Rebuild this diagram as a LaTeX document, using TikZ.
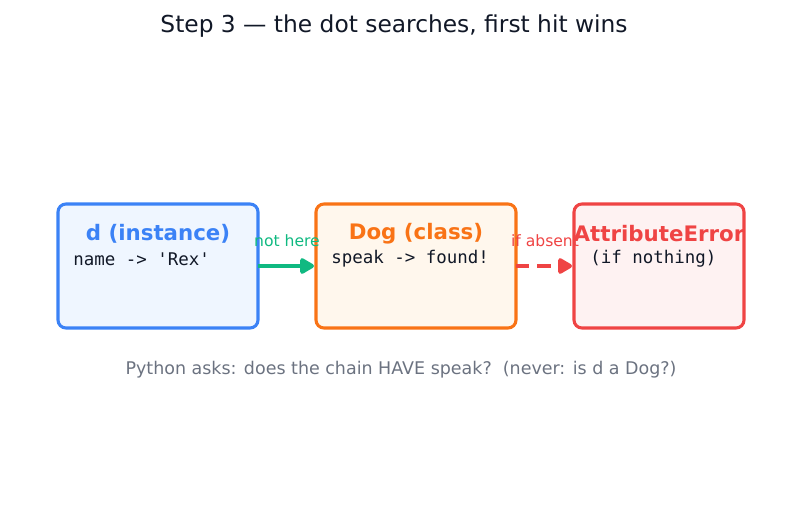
\documentclass[tikz,border=0pt]{standalone}
\usepackage{fontspec}
\setmainfont{DejaVu Sans}
\setmonofont{DejaVu Sans Mono}
\usetikzlibrary{arrows.meta}
\definecolor{cblue}{HTML}{3B82F6}
\definecolor{fblue}{HTML}{EFF6FF}
\definecolor{corange}{HTML}{F97316}
\definecolor{forange}{HTML}{FFF7ED}
\definecolor{cred}{HTML}{EF4444}
\definecolor{fred}{HTML}{FEF2F2}
\definecolor{cgreen}{HTML}{10B981}
\definecolor{cgray}{HTML}{6B7280}
\definecolor{ctitle}{HTML}{111827}
\tikzset{
  box/.style={draw=#1, line width=2.3pt, rounded corners=6pt},
  head/.style={font=\fontsize{16}{18}\selectfont\bfseries, text=#1, inner sep=0pt, anchor=center},
  code/.style={font=\fontsize{13.1}{15}\ttfamily, text=ctitle, inner sep=0pt, anchor=west},
  elabel/.style={font=\fontsize{11.7}{13}\selectfont, text=#1, inner sep=0pt, anchor=center},
  conn/.style={draw=#1, line width=3pt, -{Triangle[length=12pt,width=13pt,round]}},
}
\begin{document}
\begin{tikzpicture}[x=0.75pt,y=-0.75pt]
\useasboundingbox (0,0) rectangle (787,510);
\node[font=\fontsize{17.5}{20}\selectfont, text=ctitle, inner sep=0pt] (title) at (394,26) {Step 3 — the dot searches, first hit wins};
% boxes
\filldraw[box=cblue, fill=fblue] (58,204) rectangle (258,328);
\filldraw[box=corange, fill=forange] (316,204) rectangle (516,328);
\filldraw[box=cred, fill=fred] (574,204) rectangle (744,328);
\coordinate (b1r) at (258,266);
\coordinate (b2l) at (314,266);
\coordinate (b2r) at (516,266);
\coordinate (b3l) at (572,266);
\node[head=cblue] (h1) at (158,233.5) {d (instance)};
\node[code] (c1) at (73,259) {name -> 'Rex'};
\node[head=corange] (h2) at (416,233.5) {Dog (class)};
\node[code] (c2) at (331,259) {speak -> found!};
\node[head=cred] (h3) at (659,233.5) {AttributeError};
\node[code] (c3) at (590,259) {(if nothing)};
% connectors
\draw[conn=cgreen] (b1r) -- (b2l);
\node[elabel=cgreen] (l1) at (287,240.5) {not here};
\draw[conn=cred, dash pattern=on 10pt off 6pt] (b2r) -- (b3l);
\node[elabel=cred] (l2) at (545,240.5) {if absent};
\node[font=\fontsize{13.1}{15}\selectfont, text=cgray, inner sep=0pt] (foot) at (401,369.5) {Python asks: does the chain HAVE speak?\ \ (never: is d a Dog?)};
\end{tikzpicture}
\end{document}
